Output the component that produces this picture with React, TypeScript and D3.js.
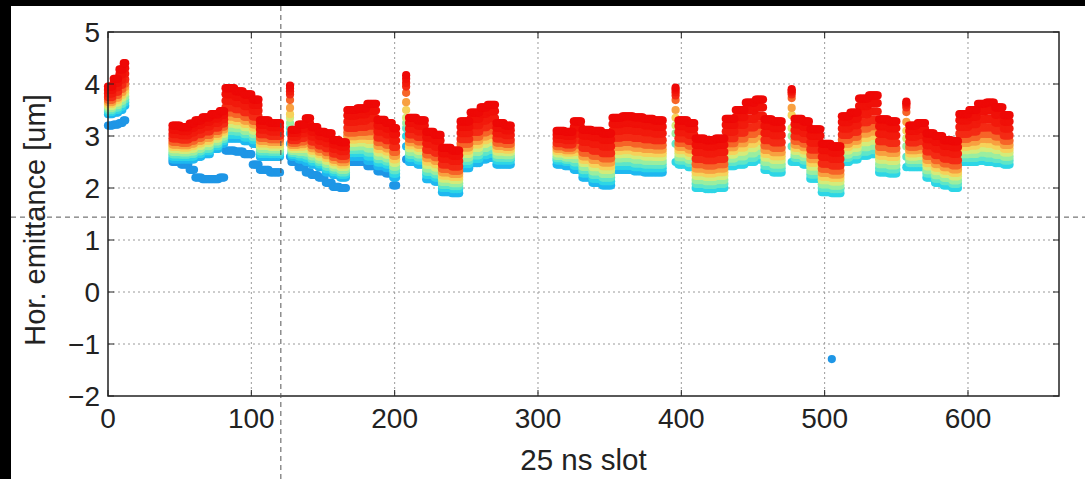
import React from 'react';
import * as d3 from 'd3';

const W = 1085;
const H = 479;
const plot = { left: 108, top: 32, right: 1059, bottom: 396 };

const xDomain: [number, number] = [0, 663.5];
const yDomain: [number, number] = [-2, 5];
const xTicks = [0, 100, 200, 300, 400, 500, 600];
const yTicks = [-2, -1, 0, 1, 2, 3, 4, 5];
const xGrid = [100, 200, 300, 400, 500, 600];
const yGrid = [-1, 0, 1, 2, 3, 4];

const xLabel = '25 ns slot';
const yLabel = 'Hor. emittance [um]';

// dashed cross-hair annotation (slot, emittance)
const markerSlot = 120.6;
const markerLevel = 1.44;

// colour of each measurement step (early -> late)
const stepColors = [
  '#1e96e6', '#1fb8f0', '#2ed6e6', '#5fe6c8', '#9aeea0', '#d4ec7a', '#f6d25a',
  '#f8a040', '#f66428', '#f42a14', '#f21a0c', '#f01008', '#ee0806',
];
// fraction of the growth from the 2nd to the last measurement reached at each step
const growth = [0, 0, 0.08, 0.15, 0.22, 0.3, 0.37, 0.44, 0.52, 0.62, 0.75, 0.88, 1.0];

// rows: [firstSlot, lastSlot, firstMeasured, secondMeasured, lastMeasured]
const train1 = [
  [0, 3, 3.2, 3.42, 3.95],
  [4, 7, 3.22, 3.45, 4.1],
  [8, 10, 3.25, 3.5, 4.28],
  [11, 12, 3.3, 3.58, 4.4],
];
const train2 = [
  [45, 50, 2.5, 2.55, 3.2],
  [51, 56, 2.45, 2.55, 3.17],
  [57, 60, 2.35, 2.55, 3.24],
  [61, 65, 2.2, 2.6, 3.3],
  [66, 71, 2.17, 2.65, 3.36],
  [72, 77, 2.17, 2.75, 3.42],
  [78, 81, 2.2, 2.85, 3.48],
  [82, 88, 2.72, 2.95, 3.92],
  [89, 94, 2.7, 2.95, 3.86],
  [95, 100, 2.65, 2.9, 3.8],
  [101, 105, 2.45, 2.85, 3.7],
  [106, 112, 2.35, 2.6, 3.3],
  [113, 120, 2.3, 2.6, 3.25],
];
const train3 = [
  [128, 132, 2.5, 2.6, 3.12],
  [133, 137, 2.4, 2.55, 3.22],
  [138, 141, 2.3, 2.5, 3.34],
  [142, 146, 2.25, 2.45, 3.17],
  [147, 151, 2.2, 2.4, 3.08],
  [152, 156, 2.1, 2.3, 3.05],
  [157, 161, 2.02, 2.25, 2.92],
  [162, 166, 2.0, 2.2, 2.88],
  [167, 173, 2.5, 2.6, 3.5],
  [174, 180, 2.5, 2.6, 3.53],
  [181, 187, 2.42, 2.52, 3.62],
  [188, 193, 2.32, 2.42, 3.31],
  [194, 198, 2.28, 2.38, 3.25],
  [199, 201, 2.05, 2.2, 3.15],
];
const train4 = [
  [210, 215, 2.5, 2.58, 3.35],
  [216, 221, 2.45, 2.53, 3.3],
  [222, 227, 2.17, 2.25, 3.08],
  [228, 232, 2.12, 2.2, 3.02],
  [233, 239, 1.92, 2.0, 2.77],
  [240, 245, 1.9, 1.98, 2.72],
  [246, 252, 2.38, 2.46, 3.28],
  [253, 259, 2.48, 2.56, 3.45],
  [260, 264, 2.55, 2.63, 3.55],
  [265, 270, 2.58, 2.66, 3.6],
  [271, 276, 2.45, 2.53, 3.25],
  [277, 281, 2.45, 2.53, 3.2],
];
const train5 = [
  [313, 318, 2.45, 2.53, 3.1],
  [319, 324, 2.42, 2.5, 3.08],
  [325, 330, 2.35, 2.43, 3.28],
  [331, 337, 2.2, 2.28, 3.12],
  [338, 344, 2.1, 2.18, 3.1],
  [345, 351, 2.05, 2.13, 3.05],
  [352, 358, 2.35, 2.43, 3.35],
  [359, 366, 2.35, 2.43, 3.38],
  [367, 373, 2.32, 2.4, 3.36],
  [374, 380, 2.3, 2.38, 3.33],
  [381, 387, 2.3, 2.38, 3.3],
];
const train6 = [
  [398, 404, 2.45, 2.53, 3.3],
  [405, 409, 2.4, 2.48, 3.25],
  [410, 416, 2.0, 2.08, 2.95],
  [417, 423, 1.98, 2.06, 2.92],
  [424, 430, 2.0, 2.08, 2.95],
  [431, 437, 2.42, 2.5, 3.33],
  [438, 444, 2.45, 2.53, 3.5],
  [445, 451, 2.5, 2.58, 3.64],
  [452, 457, 2.55, 2.63, 3.7],
  [458, 463, 2.35, 2.43, 3.32],
  [464, 470, 2.3, 2.38, 3.28],
];
const train7 = [
  [479, 484, 2.5, 2.58, 3.33],
  [485, 489, 2.45, 2.53, 3.28],
  [490, 497, 2.18, 2.26, 3.13],
  [498, 504, 1.92, 2.0, 2.85],
  [505, 511, 1.9, 1.98, 2.8],
  [512, 517, 2.5, 2.58, 3.38],
  [518, 523, 2.55, 2.63, 3.45],
  [524, 530, 2.62, 2.7, 3.72],
  [531, 537, 2.65, 2.73, 3.78],
  [538, 544, 2.3, 2.38, 3.32],
  [545, 550, 2.28, 2.36, 3.28],
];
const train8 = [
  [559, 564, 2.4, 2.48, 3.2],
  [565, 570, 2.4, 2.48, 3.25],
  [571, 576, 2.2, 2.28, 3.05],
  [577, 582, 2.1, 2.18, 3.0],
  [583, 588, 2.05, 2.13, 2.92],
  [589, 593, 2.0, 2.08, 2.9],
  [594, 600, 2.5, 2.58, 3.42],
  [601, 606, 2.5, 2.58, 3.5],
  [607, 612, 2.52, 2.6, 3.62],
  [613, 618, 2.5, 2.58, 3.64],
  [619, 624, 2.48, 2.56, 3.55],
  [625, 629, 2.45, 2.53, 3.4],
];
// first measured step of each train
const trainStartStep = [0, 0, 0, 1, 1, 2, 2, 2];

// single leading bunches, value per step (null = not measured)
const singleSlots = [127, 208, 396, 477, 557];
const single127 = [2.6, 2.85, 3.05, 3.15, 3.25, 3.35, 3.42, 3.54, 3.69, 3.8, 3.86, 3.92, 3.97];
const single208 = [2.55, 2.8, 3.0, 3.15, 3.25, 3.35, 3.5, 3.65, 3.83, 3.95, 4.02, 4.1, 4.17];
const single396 = [null, null, 2.5, 2.85, 3.05, 3.2, 3.35, 3.5, 3.69, 3.78, 3.84, 3.89, 3.93];
const single477 = [null, null, 2.5, 2.8, 3.0, 3.15, 3.4, 3.54, 3.73, 3.8, 3.84, 3.87, 3.9];
const single557 = [null, null, 2.4, 2.6, 2.8, 2.95, 3.1, 3.27, 3.46, 3.55, 3.6, 3.63, 3.66];

// isolated outlier measurement
const outlierSlot = 505;
const outlierValue = -1.29;

type Pt = { slot: number; v: number; k: number };

export default function App() {
  const x = d3.scaleLinear().domain(xDomain).range([plot.left, plot.right]);
  const y = d3.scaleLinear().domain(yDomain).range([plot.bottom, plot.top]);

  const trains = [train1, train2, train3, train4, train5, train6, train7, train8];
  const pts: Pt[] = [];
  trains.forEach((rows, ti) => {
    const start = trainStartStep[ti];
    const g0 = growth[start + 1];
    rows.forEach(([s0, s1, first, second, last]) => {
      for (let s = s0; s <= s1; s++) {
        for (let k = start; k < stepColors.length; k++) {
          const v = k === start ? first : second + (last - second) * (growth[k] - g0) / (1 - g0);
          pts.push({ slot: s, v, k });
        }
      }
    });
  });
  const singles = [single127, single208, single396, single477, single557];
  singles.forEach((vals, i) => {
    vals.forEach((v, k) => {
      if (v !== null) pts.push({ slot: singleSlots[i], v: v as number, k });
    });
  });
  pts.push({ slot: outlierSlot, v: outlierValue, k: 0 });
  pts.sort((a, b) => a.k - b.k);

  const font = '"Liberation Sans", Arial, Helvetica, sans-serif';
  const tickLen = 6;
  const fmt = (t: number) => (t < 0 ? '\u2212' + Math.abs(t) : String(t));

  return (
    <svg width={W} height={H} style={{ position: 'absolute', left: 0, top: 0, background: '#fff' }}>
      <rect x={0} y={0} width={W} height={H} fill="#fff" />
      {/* grid */}
      {xGrid.map((t) => (
        <line key={'gx' + t} x1={x(t)} x2={x(t)} y1={plot.top} y2={plot.bottom}
          stroke="#9a9a9a" strokeWidth={1} strokeDasharray="2,3" />
      ))}
      {yGrid.map((t) => (
        <line key={'gy' + t} x1={plot.left} x2={plot.right} y1={y(t)} y2={y(t)}
          stroke="#9a9a9a" strokeWidth={1} strokeDasharray="2,3" />
      ))}
      {/* points */}
      <g>
        {pts.map((p, i) => (
          <circle key={i} cx={x(p.slot)} cy={y(p.v)} r={4.1} fill={stepColors[p.k]} />
        ))}
      </g>
      {/* ticks (inward, all four sides) */}
      {xTicks.map((t) => (
        <g key={'tx' + t}>
          <line x1={x(t)} x2={x(t)} y1={plot.bottom} y2={plot.bottom - tickLen} stroke="#222" strokeWidth={1} />
          <line x1={x(t)} x2={x(t)} y1={plot.top} y2={plot.top + tickLen} stroke="#222" strokeWidth={1} />
          <text x={x(t)} y={428} textAnchor="middle" fontFamily={font} fontSize={28} fill="#222">{fmt(t)}</text>
        </g>
      ))}
      {yTicks.map((t) => (
        <g key={'ty' + t}>
          <line x1={plot.left} x2={plot.left + tickLen} y1={y(t)} y2={y(t)} stroke="#222" strokeWidth={1} />
          <line x1={plot.right} x2={plot.right - tickLen} y1={y(t)} y2={y(t)} stroke="#222" strokeWidth={1} />
          <text x={100} y={y(t)} dy="0.36em" textAnchor="end" fontFamily={font} fontSize={28} fill="#222">{fmt(t)}</text>
        </g>
      ))}
      {/* frame */}
      <rect x={plot.left} y={plot.top} width={plot.right - plot.left} height={plot.bottom - plot.top}
        fill="none" stroke="#222" strokeWidth={1.5} />
      {/* axis labels */}
      <text x={(plot.left + plot.right) / 2} y={470} textAnchor="middle" fontFamily={font} fontSize={29.5} fill="#222">{xLabel}</text>
      <text transform={`translate(45,${(plot.top + plot.bottom) / 2 + 6}) rotate(-90)`} textAnchor="middle"
        fontFamily={font} fontSize={29} fill="#222">{yLabel}</text>
      {/* cross-hair annotation */}
      <line x1={x(markerSlot)} x2={x(markerSlot)} y1={6} y2={H} stroke="#555" strokeWidth={1} strokeDasharray="5,4" />
      <line x1={11} x2={W} y1={y(markerLevel)} y2={y(markerLevel)} stroke="#555" strokeWidth={1} strokeDasharray="5,4" />
      {/* dark page borders */}
      <rect x={0} y={0} width={W} height={6} fill="#000" />
      <rect x={0} y={0} width={11} height={H} fill="#000" />
    </svg>
  );
}
